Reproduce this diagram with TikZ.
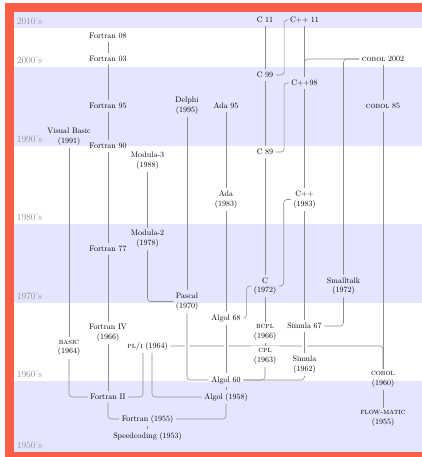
\documentclass[tikz,border=0pt]{standalone}
\usepackage{tikz}
\definecolor{framered}{RGB}{250,95,70}
\pgfdeclarelayer{background}
\pgfsetlayers{background,main}

\begin{document}
\begin{tikzpicture}[x=1.25pt, y=-1.25pt,
    lang/.style={align=center},
    link/.style={draw=black!45, line width=0.7pt, rounded corners=4pt},
    halo/.style={preaction={draw=white, line width=6pt}},
    band/.style={fill=blue!10},
    decade/.style={text=black!45, anchor=south west, font=\large}]
    % Page
    \clip (0,0) rectangle (422,457);
    % Decade bands
    \begin{pgfonlayer}{background}
    \foreach \a/\b in {12/28,67/146,224/303,381/452}
    {
        \fill[band] (14,\a) rectangle (422,\b);
    }
    \end{pgfonlayer}
    % Decade labels
    \foreach \y/\yr in {28/2010,67/2000,146/1990,224/1980,303/1970,381/1960,452/1950}
    {
        \node[decade] (dec\yr) at (14,\y) {\yr's};
    }

    % Fortran family
    \node[lang] (f08) at (108,36) {Fortran 08};
    \node[lang] (f03) at (108,59) {Fortran 03};
    \node[lang] (f95) at (108,106) {Fortran 95};
    \node[lang] (f90) at (108,146) {Fortran 90};
    \node[lang] (f77) at (108,249) {Fortran 77};
    \node[lang] (f4) at (108,333) {Fortran IV\\(1966)};
    \node[lang] (f2) at (108,397) {Fortran II};
    \node[lang] (f1) at (147.5,419) {Fortran (1955)};
    \node[lang] (speedcoding) at (147.5,436) {Speedcoding (1953)};
    % Basic
    \node[lang] (vbasic) at (69,137) {Visual Basic\\(1991)};
    \node[lang] (basic) at (69,348) {\textsc{basic}\\(1964)};
    \node[lang] (pli) at (147.5,346) {\textsc{pl/i} (1964)};
    % Algol family
    \node[lang] (modula3) at (147.5,161) {Modula-3\\(1988)};
    \node[lang] (modula2) at (147.5,239) {Modula-2\\(1978)};
    \node[lang] (delphi) at (187,105.5) {Delphi\\(1995)};
    \node[lang] (pascal) at (187,301.5) {Pascal\\(1970)};
    \node[lang] (ada95) at (226,106) {Ada 95};
    \node[lang] (ada83) at (226,199.5) {Ada\\(1983)};
    \node[lang] (algol68) at (226,318) {Algol 68};
    \node[lang] (algol60) at (226,380) {Algol 60};
    \node[lang] (algol58) at (226,397) {Algol (1958)};
    % C family
    \node[lang] (c11) at (265,20) {C 11};
    \node[lang] (c99) at (265,75) {C 99};
    \node[lang] (c89) at (265,152) {C 89};
    \node[lang] (c72) at (265,286) {C\\(1972)};
    \node[lang] (bcpl) at (265,332.5) {\textsc{bcpl}\\(1966)};
    \node[lang, fill=white] (cpl) at (265,356.5) {\textsc{cpl}\\(1963)};
    \node[lang] (cpp11) at (304.5,20) {C++ 11};
    \node[lang] (cpp98) at (304.5,83) {C++98};
    \node[lang] (cpp83) at (304.5,199.5) {C++\\(1983)};
    \node[lang] (simula67) at (304.5,326) {Simula 67};
    \node[lang] (simula62) at (304.5,364.5) {Simula\\(1962)};
    \node[lang] (smalltalk) at (343.5,286) {Smalltalk\\(1972)};
    % Cobol
    \node[lang] (cobol02) at (383,59) {\textsc{cobol} 2002};
    \node[lang] (cobol85) at (383,106) {\textsc{cobol} 85};
    \node[lang] (cobol60) at (383,379.5) {\textsc{cobol}\\(1960)};
    \node[lang] (flowmatic) at (383,418.5) {\textsc{flow-matic}\\(1955)};

    % Links
    \draw[link] (f08) -- (f03);
    \draw[link] (f03) -- (f95);
    \draw[link] (f95) -- (f90);
    \draw[link] (f90) -- (f77);
    \draw[link] (f77) -- (f4);
    \draw[link] (f4) -- (f2);
    \draw[link] (f2.south) |- (f1.west);
    \draw[link] (f1.east) -| (algol58.south);
    \draw[link] (speedcoding) -- (f1);
    \draw[link] (vbasic) -- (basic);
    \draw[link] (basic.south) |- (f2.west);
    \draw[link] (f2.east) -| ([xshift=-5.6pt]pli.south);
    \draw[link] ([xshift=5.6pt]pli.south) |- (algol58.west);
    \draw[link] (modula3) -- (modula2);
    \draw[link] (modula2.south) |- (pascal.west);
    \draw[link] (delphi) -- (pascal);
    \draw[link] (ada95) -- (ada83);
    \draw[link] (ada83) -- (algol68);
    \draw[link] (algol60) -- (algol58);
    \draw[link] (algol68.east) -- ++(4pt,0) |- (c72.west);
    \draw[link] (algol60.east) -| (cpl.south);
    \draw[link] (algol60.east) -| (simula62.south);
    \draw[link] (cpl) -- (bcpl);
    \draw[link] (bcpl) -- (c72);
    \draw[link] (c72) -- (c89);
    \draw[link] (c89) -- (c99);
    \draw[link] (c99) -- (c11);
    \draw[link] (c99.east) -- ++(10pt,0) |- (cpp11.west);
    \draw[link] (c89.east) -- ++(10pt,0) |- (cpp98.west);
    \draw[link] (c72.east) -- ++(6pt,0) |- (cpp83.west);
    \draw[link] (cpp83) -- (cpp98);
    \draw[link] (cpp98) -- (cpp11);
    \draw[link] (simula67) -- (cpp83);
    \draw[link] (simula67.east) -| (smalltalk.south);
    \draw[link] (smalltalk.north) |- (cobol02.west);
    \draw[link] (cpp98.north) |- (cobol02.west);
    \draw[link] (cobol02) -- (cobol85);
    \draw[link] (cobol85) -- (cobol60);
    \draw[link] (flowmatic) -- (cobol60);
    % PL/I line passes behind the others
    \begin{pgfonlayer}{background}
    \draw[link] (cobol60.north) |- (pli.east);
    \end{pgfonlayer}
    \begin{scope}
        \clip (14,303) rectangle (422,381);
        \draw[link, halo] (pascal.south) |- (algol60.west);
        \draw[link, halo] (algol68) -- (algol60);
        \draw[link, halo] (simula62) -- (simula67);
    \end{scope}

    % Frame
    \draw[framered, line width=11.25pt] (9.5,7.5) rectangle (427,456.5);
\end{tikzpicture}
\end{document}
